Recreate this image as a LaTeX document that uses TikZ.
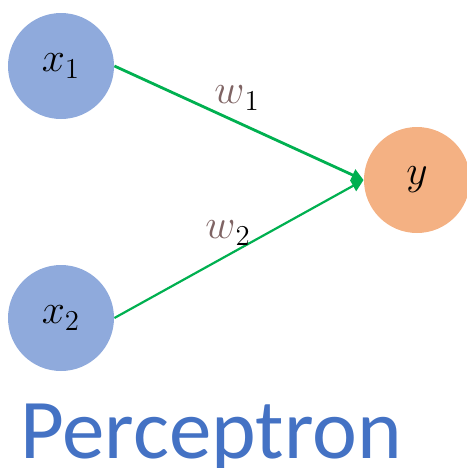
\documentclass[tikz,border=0pt]{standalone}
\usepackage{fontspec}
\newfontfamily\titlefont{Carlito}
\usetikzlibrary{arrows.meta,positioning}
\definecolor{inblue}{HTML}{8FAADC}
\definecolor{outorange}{HTML}{F4B183}
\definecolor{linkgreen}{HTML}{00B050}
\definecolor{wgray}{HTML}{7F6464}
\definecolor{titleblue}{HTML}{4472C4}

\begin{document}
\begin{tikzpicture}[
  x=0.5pt,y=-0.5pt,
  font=\fontsize{20}{23}\selectfont,
  neuron/.style={circle,minimum size=53pt,inner sep=0pt},
  inp/.style={neuron,fill=inblue},
  outp/.style={neuron,fill=outorange},
  arr/.style={-{Triangle[length=6pt,width=6pt]},draw=linkgreen,fill=linkgreen,line width=1.4pt}
]
\useasboundingbox (0,0) rectangle (467,468);
\node[inp] (x1) at (61,66) {$x_1$};
\node[inp] (x2) at (61,318) {$x_2$};
\node[outp] (y) at (417,180) {$y$};
\draw[arr] (x1.east) -- (y.west);
\draw[arr,line width=1.1pt] (x2.east) -- (y.west);
\node (w1) at (237,98) {$\textcolor{wgray}{w}_1$};
\node (w2) at (228,233) {$\textcolor{wgray}{w}_2$};
\node[anchor=base west,inner sep=0pt,text=titleblue,font=\titlefont\fontsize{42.5}{46}\selectfont] (title) at (20,458) {Perceptron};
\end{tikzpicture}
\end{document}
